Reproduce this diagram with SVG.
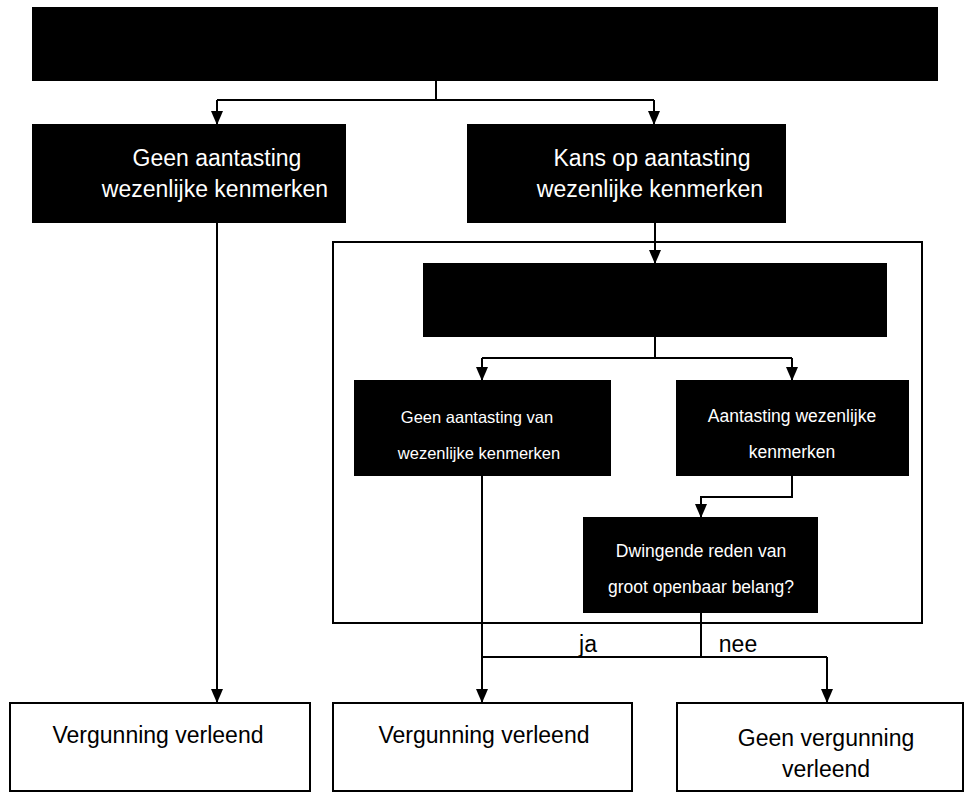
<svg xmlns="http://www.w3.org/2000/svg" width="968" height="795" viewBox="0 0 968 795">
<style>
.blk{fill:#000;stroke:#000;stroke-width:2}
.wbox{fill:#fff;stroke:#000;stroke-width:2}
.frame{fill:none;stroke:#000;stroke-width:2}
.ln{fill:none;stroke:#000;stroke-width:2}
.t{font-family:"Liberation Sans",Arial,sans-serif;text-anchor:middle}
.wt{fill:#fff}
.bt{fill:#000}
</style>
<defs>
<marker id="arr" viewBox="0 0 14 12" refX="14" refY="6" markerWidth="14" markerHeight="12" markerUnits="userSpaceOnUse" orient="auto">
<path d="M0,0 L14,6 L0,12 z" fill="#000"/>
</marker>
</defs>
<rect width="968" height="795" fill="#fff"/>

<g id="frame">
<rect class="frame" x="333" y="242" width="589" height="381"/>
</g>

<g id="top">
<rect class="blk" x="33" y="8" width="904" height="72"/>
</g>

<g id="geen-aantasting">
<rect class="blk" x="33" y="125" width="312" height="97"/>
<text class="t wt" font-size="23" x="217" y="166">Geen aantasting</text>
<text class="t wt" font-size="23" x="215" y="197">wezenlijke kenmerken</text>
</g>

<g id="kans-aantasting">
<rect class="blk" x="468" y="125" width="317" height="97"/>
<text class="t wt" font-size="23" x="652" y="166">Kans op aantasting</text>
<text class="t wt" font-size="23" x="650" y="197">wezenlijke kenmerken</text>
</g>

<g id="midden">
<rect class="blk" x="424" y="264" width="462" height="72"/>
</g>

<g id="geen-aantasting-van">
<rect class="blk" x="355" y="381" width="255" height="94"/>
<text class="t wt" font-size="16.5" x="477" y="423">Geen aantasting van</text>
<text class="t wt" font-size="16.5" x="479" y="459">wezenlijke kenmerken</text>
</g>

<g id="aantasting">
<rect class="blk" x="677" y="381" width="231" height="94"/>
<text class="t wt" font-size="17.5" x="792" y="422">Aantasting wezenlijke</text>
<text class="t wt" font-size="17.5" x="792" y="458">kenmerken</text>
</g>

<g id="dwingende">
<rect class="blk" x="584" y="518" width="233" height="94"/>
<text class="t wt" font-size="17.5" x="701" y="557">Dwingende reden van</text>
<text class="t wt" font-size="17.5" x="701" y="593">groot openbaar belang?</text>
</g>

<g id="vergunning-1">
<rect class="wbox" x="10" y="703" width="300" height="88"/>
<text class="t bt" font-size="23" x="158" y="743">Vergunning verleend</text>
</g>

<g id="vergunning-2">
<rect class="wbox" x="333" y="703" width="299" height="88"/>
<text class="t bt" font-size="23" x="484" y="743">Vergunning verleend</text>
</g>

<g id="geen-vergunning">
<rect class="wbox" x="677" y="703" width="286" height="88"/>
<text class="t bt" font-size="23" x="826" y="746">Geen vergunning</text>
<text class="t bt" font-size="23" x="826" y="777">verleend</text>
</g>

<g id="connectors">
<path class="ln" d="M436,80 V100 M217,100 H654"/>
<path class="ln" d="M217,100 V125" marker-end="url(#arr)"/>
<path class="ln" d="M654,100 V125" marker-end="url(#arr)"/>
<path class="ln" d="M217,222 V703" marker-end="url(#arr)"/>
<path class="ln" d="M655,222 V264" marker-end="url(#arr)"/>
<path class="ln" d="M655,336 V358 M482,358 H792"/>
<path class="ln" d="M482,358 V381" marker-end="url(#arr)"/>
<path class="ln" d="M792,358 V381" marker-end="url(#arr)"/>
<path class="ln" d="M482,475 V703" marker-end="url(#arr)"/>
<path class="ln" d="M792,475 V497 H701 V518" marker-end="url(#arr)"/>
<path class="ln" d="M701,612 V657 M482,657 H827"/>
<path class="ln" d="M827,657 V703" marker-end="url(#arr)"/>
<text class="t bt" font-size="23" x="588" y="652">ja</text>
<text class="t bt" font-size="23" x="738" y="652">nee</text>
</g>
</svg>
